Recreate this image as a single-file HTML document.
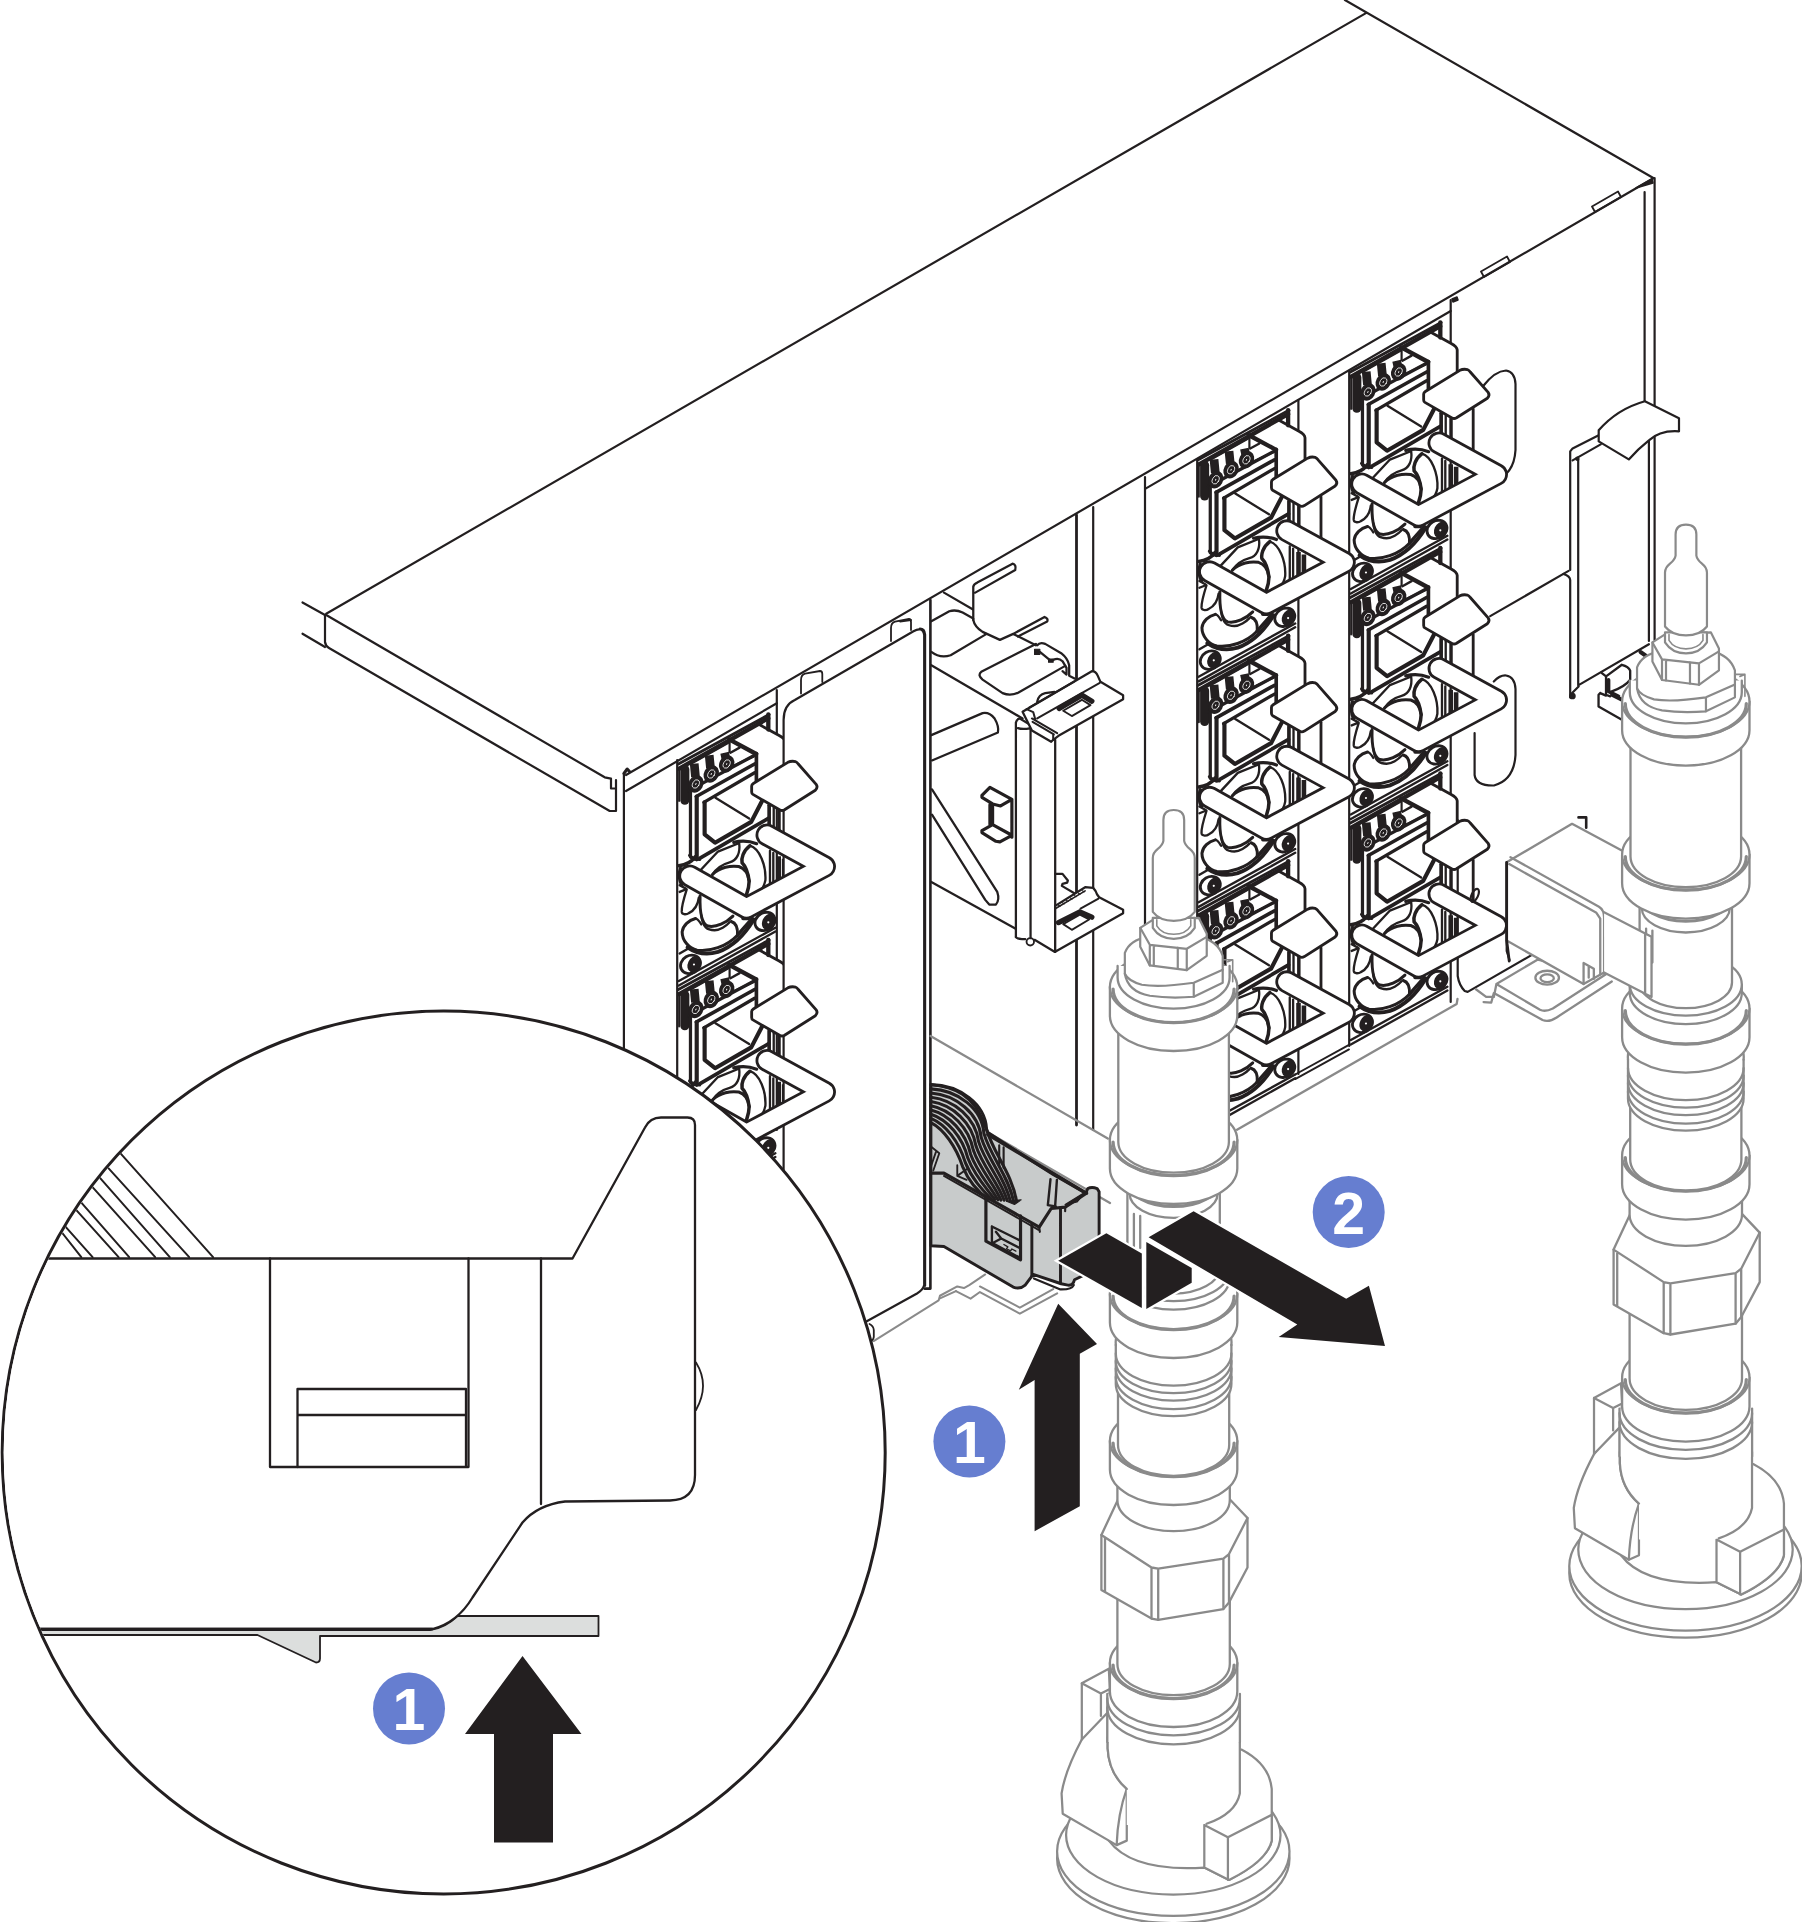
<!DOCTYPE html>
<html lang="en"><head><meta charset="utf-8"><title>Manifold retention bracket removal</title>
<style>
html,body{margin:0;padding:0;background:#fff}
body{width:1802px;height:1922px;overflow:hidden}
svg{display:block}
.k{stroke:#231f20;fill:none;stroke-width:2.2;stroke-linecap:round;stroke-linejoin:round}
.w{fill:#fff}
.g{stroke:#8a8a8a;fill:none;stroke-width:2.3;stroke-linecap:round;stroke-linejoin:round}
.num{font-family:"Liberation Sans",sans-serif;font-weight:bold;fill:#fff;text-anchor:middle}
</style></head><body>
<svg width="1802" height="1922" viewBox="0 0 1802 1922">
<defs>
<g id="psuB" class="k">
 <!-- upper part traced at 12x, origin (1340,310) -->
 <g transform="translate(1340,310) scale(0.083243)" stroke-width="34">
  <!-- box top + right face (white) -->
  <path class="w" d="M735,450 L1080,262 L1330,400 Q1405,440 1408,480 V1000 H1062 V625 Z" stroke="none"/>
  <path d="M125,745 L1215,150"/>
  <path d="M1205,150 V330" stroke-width="52"/>
  <path d="M135,800 L1205,195" stroke-width="52"/>
  <path d="M1080,262 L1330,400 Q1405,440 1408,480 V740"/>
  <path d="M735,450 L1060,625" stroke-width="52"/>
  <path d="M1062,620 V950" stroke-width="44"/>
  <path d="M740,450 V600" stroke-width="26"/>
  <path d="M860,548 L750,610" stroke-width="28"/>
  <!-- LED strip -->
  <path d="M133,790 V1190" stroke-width="23"/>
  <path d="M202,810 V1180" stroke-width="109"/>
  <path d="M270,745 L720,492" stroke-width="28"/>
  <path d="M250,1065 L1040,640" stroke-width="39"/>
  <path d="M340,1135 L1040,745" stroke-width="44"/>
  <path d="M430,1205 L1040,850" stroke-width="39"/>
  <path d="M790,765 L1035,650" stroke-width="28"/>
  <!-- LED bars -->
  <path d="M315,740 L330,900 M495,640 L510,790 M680,610 L700,700" stroke-width="105" stroke-linecap="butt"/>
  <g stroke-width="39">
   <ellipse cx="335" cy="985" rx="68" ry="90" transform="rotate(28 335 985)" fill="#231f20"/>
   <ellipse cx="520" cy="865" rx="68" ry="90" transform="rotate(28 520 865)" fill="#231f20"/>
   <ellipse cx="705" cy="745" rx="68" ry="90" transform="rotate(28 705 745)" fill="#231f20"/>
   <g stroke="#fff" stroke-width="9">
   <ellipse cx="335" cy="985" rx="38" ry="54" transform="rotate(28 335 985)"/>
   <ellipse cx="520" cy="865" rx="38" ry="54" transform="rotate(28 520 865)"/>
   <ellipse cx="705" cy="745" rx="38" ry="54" transform="rotate(28 705 745)"/>
   </g>
   <g fill="#fff" stroke="none">
   <ellipse cx="335" cy="985" rx="6" ry="12" transform="rotate(28 335 985)"/>
   <ellipse cx="520" cy="865" rx="6" ry="12" transform="rotate(28 520 865)"/>
   <ellipse cx="705" cy="745" rx="6" ry="12" transform="rotate(28 705 745)"/>
   </g>
  </g>
  <!-- inlet -->
  <path d="M270,1075 V1860 L310,1890" stroke-width="39"/>
  <path d="M345,1135 V1890" stroke-width="50"/>
  <path d="M440,1205 V1590 L565,1690 L1000,1440 L1130,1190" stroke-width="50"/>
  <path d="M570,1150 L975,1400" stroke-width="28"/>
  <path d="M385,1875 L1210,1395" stroke-width="44"/>
  <!-- right face lower verticals -->
  <path d="M1215,1240 V1500" stroke-width="44"/>
  <path d="M1270,1270 V1530" stroke-width="28"/>
  <path d="M1335,1310 V1560" stroke-width="39"/>
  <path d="M1600,1190 V1700"/>
</g>
 <!-- lower part traced at 12x, origin (1340,440) -->
 <g transform="translate(1340,440) scale(0.083243)" stroke-width="34">
  <path d="M260,280 L300,320 L380,330" stroke-width="39"/>
  <!-- fan housing -->
  <path d="M130,405 Q260,390 325,300" stroke-width="44"/>
  <path d="M150,440 Q120,540 165,635" stroke-width="44"/>
  <path d="M790,125 Q930,90 1065,140" stroke-width="39"/>
  <path d="M235,1385 Q400,1500 600,1440 Q850,1350 1030,1050" stroke-width="47"/>
  <path d="M390,460 L600,235 L850,135" stroke-width="28"/>
  <path d="M855,135 C870,250 830,340 740,365 C650,390 580,440 535,510" stroke-width="28"/>
  <path d="M985,165 C900,230 880,320 890,370 C930,410 960,480 975,590 C975,680 945,740 935,775" stroke-width="42"/>
  <path d="M985,165 C1100,200 1180,400 1170,580 C1150,700 1060,770 960,780" stroke-width="28"/>
  <path d="M535,510 C620,420 760,400 850,415 C900,430 960,480 975,590" stroke-width="36"/>
  <path d="M1225,225 V640 M1265,250 V620" stroke-width="28"/>
  <path d="M1330,290 V590 M1395,320 V555" stroke-width="55" stroke-linecap="butt"/>
  <path d="M225,690 C190,800 160,900 165,960 C170,1000 230,990 250,975 C320,940 360,870 370,790" stroke-width="28"/>
  <path d="M140,640 L215,680 M140,720 L215,690" stroke-width="28"/>
  <path d="M385,770 C380,950 400,1100 480,1130 C580,1150 700,1090 780,1010" stroke-width="36"/>
  <path d="M400,1000 C420,1150 470,1180 560,1180 C620,1180 700,1130 740,1085" stroke-width="28"/>
  <path d="M330,1040 C250,1060 180,1120 170,1200 C170,1300 250,1400 350,1420 C500,1440 700,1380 835,1240 C840,1150 810,1090 760,1075" stroke-width="36"/>
  <path d="M330,1040 C360,1040 380,1080 400,1110" stroke-width="28"/>
  <path d="M835,1240 L1010,1040" stroke-width="42"/>
  <path d="M900,1040 L965,1040" stroke-width="39"/>
  <!-- screws -->
  <ellipse cx="1165" cy="1075" rx="125" ry="105" stroke-width="34" transform="rotate(-30 1165 1075)"/>
  <ellipse cx="1210" cy="1080" rx="60" ry="85" fill="#231f20" transform="rotate(25 1210 1080)"/>
  <circle cx="1205" cy="1085" r="13" fill="#fff" stroke="none"/>
  <ellipse cx="270" cy="1590" rx="125" ry="105" stroke-width="34" transform="rotate(-30 270 1590)"/>
  <ellipse cx="315" cy="1590" rx="60" ry="85" fill="#231f20" transform="rotate(25 315 1590)"/>
  <circle cx="312" cy="1592" r="13" fill="#fff" stroke="none"/>
  <!-- bottom rails -->
  <path d="M130,1790 L1290,1150 M130,1845 L1290,1195" stroke-width="28"/>
  <path d="M140,1460 L260,1390" stroke-width="28"/>
 </g>
</g>
<g id="psuF" class="k">
 <g transform="translate(1340,310) scale(0.083243)" stroke-width="34">
  <!-- tab -->
  <path class="w" d="M1005,1010 Q1005,990 1025,978 L1440,725 Q1480,705 1530,715 Q1550,722 1565,745 L1780,990 Q1805,1025 1770,1060 L1400,1295 Q1370,1312 1340,1295 L1020,1110 Q1005,1100 1005,1080 Z"/>
  </g>
 <!-- handle -->
 <path d="M1439,443 L1496.5,474.5 L1418.5,516 L1361.8,484" stroke-width="22.9"/>
 <path d="M1439,443 L1496.5,474.5 L1418.5,516 L1361.8,484" stroke-width="17.3" stroke="#fff"/>
</g>
<g id="mf" class="g">
<g transform="translate(1020,1490) scale(0.22477)" stroke-width="10"><ellipse class="w" cx="682" cy="1640" rx="517" ry="287"/><ellipse class="w" cx="682" cy="1608" rx="517" ry="287"/><ellipse class="w" cx="682" cy="1535" rx="477" ry="265"/><path class="w" d="M985,1155 Q1110,1220 1120,1330 V1560 Q1100,1650 930,1735 L820,1680 Q500,1700 395,1560 L390,1150 Z"/><path class="w" d="M820,1490 L925,1545 L1120,1445 V1560 Q1100,1650 930,1735 L820,1680 Z"/><path d="M925,1545 V1735" fill="none"/><path class="w" d="M390,990 Q300,1070 275,1110 Q200,1250 185,1350 L190,1440 L430,1580 L475,1560 V1330 Q395,1260 390,1150 Z"/><path d="M475,1330 Q435,1440 430,1580" fill="none"/><path class="w" d="M275,1110 V860 L395,795 L400,885 L390,990 Z"/><path d="M275,860 L360,905 V1005 M360,905 L400,885" fill="none"/><path class="w" d="M390,1100 V1150 Q395,1260 475,1330 V1490 L830,1485 Q960,1430 978,1350 L980,1100 Z" stroke="none"/><path d="M390,1100 V1150 Q395,1260 475,1330 M830,1485 Q960,1440 978,1350 V1100" fill="none"/></g>
<path class="w" stroke="none" d="M1107.3,1694 V1742 H1239.9 V1694 Z"/><path fill="none" d="M1107.3,1694 V1742 M1239.9,1694 V1742"/>
<path fill="none" d="M1107.3,1698.5 A66.3,36.8 0 0 0 1239.9,1698.5"/><path fill="none" d="M1107.3,1707.5 A66.3,36.8 0 0 0 1239.9,1707.5"/>
<path class="w" d="M1109.9,1663 V1691.6 A63.7,35.4 0 0 0 1237.3,1691.6 V1663"/><ellipse class="w" cx="1173.6" cy="1663" rx="63.7" ry="35.4"/><path fill="none" stroke-width="3.2" d="M1113.1,1665 A60.5,33.6 0 0 0 1234.1,1665"/>
<path class="w" d="M1117.4,1590 V1664 A56.2,31.2 0 0 0 1229.8,1664 V1590"/>
<path class="w" d="M1117.8,1500 L1101.4,1535 V1590 L1151.5,1618.6 L1158.2,1619.9 L1223.4,1609.1 L1229,1602.4 L1247.5,1567.5 V1518 L1229.5,1499 Z"/>
<path fill="none" d="M1101.4,1535 L1151.5,1567.5 L1158.2,1568.7 L1223.4,1558.6 L1229,1554.1 L1247.5,1518 M1105,1537.5 V1591.5 M1151.5,1567.5 V1618.6 M1158.2,1568.7 V1619.9 M1223.4,1558.6 V1609.1 M1229,1554.1 V1602.4"/>
<path class="w" d="M1117.4,1470 V1500 A56.2,31.2 0 0 0 1229.8,1500 V1470"/>
<path fill="none" d="M1117.4,1472.5 A56.2,31.2 0 0 0 1229.8,1472.5"/>
<path class="w" d="M1109.9,1441 V1469.6 A63.7,35.4 0 0 0 1237.3,1469.6 V1441"/><ellipse class="w" cx="1173.6" cy="1441" rx="63.7" ry="35.4"/><path fill="none" stroke-width="3.2" d="M1113.1,1443 A60.5,33.6 0 0 0 1234.1,1443"/>
<path class="w" d="M1118,1380 V1445 A55.6,30.9 0 0 0 1229.2,1445 V1380"/>
<path class="w" d="M1115.8,1345 V1384 A57.8,32.1 0 0 0 1231.4,1384 V1345"/>
<path fill="none" d="M1115.8,1353.5 A57.8,32.1 0 0 0 1231.4,1353.5"/>
<path fill="none" d="M1115.8,1361 A57.8,32.1 0 0 0 1231.4,1361"/>
<path fill="none" d="M1115.8,1368.5 A57.8,32.1 0 0 0 1231.4,1368.5"/>
<path fill="none" d="M1115.8,1377 A57.8,32.1 0 0 0 1231.4,1377"/>
<path fill="none" d="M1115.8,1345 Q1115.1,1340 1117.6,1332 M1231.4,1345 Q1232.1,1340 1229.6,1332"/>
<path class="w" d="M1109.9,1294 V1322.6 A63.7,35.4 0 0 0 1237.3,1322.6 V1294"/><ellipse class="w" cx="1173.6" cy="1294" rx="63.7" ry="35.4"/><path fill="none" stroke-width="3.2" d="M1113.1,1296 A60.5,33.6 0 0 0 1234.1,1296"/>
<path class="w" d="M1117.6,1270 V1278.5 A56,31.1 0 0 0 1229.6,1278.5 V1270"/><ellipse class="w" cx="1173.6" cy="1270" rx="56" ry="31.1"/>
<path class="w" d="M1127.4,1175 V1268 A46.2,25.6 0 0 0 1219.8,1268 V1175"/>
<path fill="none" stroke-width="3" d="M1127.4,1181 A46.2,25.6 0 0 0 1219.8,1181"/><path fill="none" d="M1129.6,1193.5 A44,24.4 0 0 0 1217.6,1193.5"/>
<path fill="none" d="M1133.9,1214 V1250 M1140.2,1216 V1248"/>
<path class="w" d="M1109.9,1140 V1168.6 A63.7,35.4 0 0 0 1237.3,1168.6 V1140"/><ellipse class="w" cx="1173.6" cy="1140" rx="63.7" ry="35.4"/><path fill="none" stroke-width="3.2" d="M1113.1,1142 A60.5,33.6 0 0 0 1234.1,1142"/>
<path class="w" d="M1118.3,1010 V1142 A55.3,30.7 0 0 0 1228.9,1142 V1010"/>
<path class="w" d="M1109.9,987 V1015.6 A63.7,35.4 0 0 0 1237.3,1015.6 V987"/><ellipse class="w" cx="1173.6" cy="987" rx="63.7" ry="35.4"/><path fill="none" stroke-width="3.2" d="M1113.1,989 A60.5,33.6 0 0 0 1234.1,989"/>
<path class="w" d="M1117.6,966 V977.6 A56,31.1 0 0 0 1229.6,977.6 V966"/>
<g transform="translate(990,790) scale(0.19976)" stroke-width="11"><path d="M1190,860 L1215,850 L1215,960 M1165,850 L1215,850" fill="none" stroke-width="8"/><path class="w" d="M675,920 V815 Q700,750 790,735 H1050 Q1140,755 1165,830 V965 L1020,1035 Q900,1045 800,1030 Q690,1010 675,920 Z"/><path d="M675,920 Q690,955 760,975 Q850,990 1020,965 L1165,900 M1020,965 V1035" fill="none"/><path class="w" d="M752,690 L815,650 L1045,640 L1085,720 V830 L985,902 L800,878 L752,785 Z"/><path d="M752,690 L800,775 L985,795 L1085,735 M800,775 V878 M820,778 V880 M940,790 V896 M985,795 V902" fill="none"/><path class="w" d="M815,640 V690 Q850,745 920,745 Q990,745 1025,690 V640 Z"/><path d="M835,650 V680 Q860,722 920,722 Q980,722 1005,680 V650" fill="none" stroke-width="8"/><path class="w" d="M868,255 V150 Q868,100 920,100 Q972,100 972,150 V255 Q975,275 1000,295 Q1025,315 1025,340 V610 Q990,655 920,655 Q850,655 815,610 V340 Q815,315 840,295 Q865,275 868,255 Z"/></g>
</g>

</defs>
<rect width="1802" height="1922" fill="#fff"/>
<g id="chassis" class="k">
<!-- top face -->
<path d="M326.2,613.7 L1366.8,12.6 M1344.9,0 L1653.3,178 M626,775 L1653.3,178.3"/>
<path d="M326.2,615 L604.7,777.3 L611,778.6 V788.5 H616"/>
<path d="M325,615 V642 Q325.5,646 329,648 L609.7,811 H616 V780"/>
<path d="M302.5,602.5 L325,615 M302.5,633.7 L325,647"/>
<path d="M623.9,773.5 L627.2,769 L629.5,771.5" stroke-width="3"/>
<path d="M623.9,773.5 V1060"/>
<!-- second line under top edge -->
<path d="M626,791 L776.8,703.2 M1146,488.4 L1450.7,311"/>
<!-- clips on top edge -->
<path d="M1595,212 L1621,197 L1618,191.5 L1592,206.5 Z M1484,277 L1510,262 L1507,256.5 L1481,271.5 Z" stroke-width="1.8"/>
<path d="M1452,299 l5,-2 l1,3 l-5,2 Z M1636,188 L1652,179 L1653,183 Z" fill="#231f20" stroke-width="1.5"/>
<!-- right edge -->
<path d="M1654.6,178 V640 M1644.6,192 V410"/>
<!-- column lines -->
<path d="M677.2,760 V1100 M776.8,690 V1130"/>
<path d="M1197.2,459 V1135 M1298.4,400 V1074"/>
<path d="M1295.2,1074.5 L1349,1044.8 M1295.2,1079.1 L1349,1049.4" stroke-width="1.9"/>
<path d="M1349.2,371 V1046 M1450.7,300 V1002"/>
<path d="M801,693.5 V680 Q801,675 805,673.7 L820,671 Q822.3,671 822.3,674 V682 M891,641 V628 Q891,623 895,621.7 L909,619 Q911,619 911,622 V630" stroke-width="1.8"/>
<path d="M930.4,600 V1288.6 H924.5" stroke-width="2.6"/>
<!-- center bay right verticals -->
<path d="M1076.5,515 V1125" stroke-width="2.8"/><path d="M1093.2,507 V1130 M1145,477 V1060"/>
<!-- knob --><path d="M869.5,1324 Q873.5,1326 873.8,1330 V1337 Q873,1341 870.5,1341" stroke-width="1.8"/>
<path d="M900,641 L910,634.8 M900,621.5 L911,620" stroke-width="1.8"/>
</g>

<g id="rightpanel" class="k">
<!-- ears -->
<path d="M1483.2,386 Q1495,371 1506,370.5 Q1515,372 1515.5,384 V450 Q1514,475 1494,480.5"/>
<path d="M1493.8,681.5 Q1500,675 1506,675.5 Q1515,677 1515.5,689 V755 Q1514,780 1494,785.5 Q1476,786 1474.6,775 V733"/>
<!-- line from ear to panel -->
<path d="M1490.2,616.1 L1568.6,570.9"/>
<!-- panel -->
<path d="M1570.2,570 V451.4 L1572.6,448.4 L1598.7,435.3 M1563.5,574 Q1570,576 1570.2,580 V697.5"/>
<path d="M1578.2,459.4 V685.4 L1648.9,644.2 M1571.6,693.5 L1578.6,686.4 M1572.6,460.4 L1600.7,444.4"/>
<path d="M1648.9,440 V641"/>
<circle cx="1572.4" cy="696" r="2.6" fill="#231f20" stroke-width="1.5"/>
<circle cx="1577.4" cy="458.8" r="1.6" fill="#231f20" stroke-width="1.2"/>
<path d="M1640.5,652 l5,3.5" stroke-width="4"/>
<!-- latch -->
<path class="w" d="M1598.7,430.3 Q1617,409 1644.9,401.2 L1679,418.3 V431.3 Q1660,430 1648.9,440.4 Q1638,449 1628.8,459.4 L1598.7,441.4 Z"/>
<!-- small bracket under panel -->
<g transform="translate(1502,480) scale(0.16647)" stroke-width="14">
 <path d="M600,1160 L625,1180 V1290 L650,1300 M625,1180 L720,1110 Q760,1120 770,1145 V1200 Q740,1240 660,1270"/>
 <path d="M640,1200 V1270 L700,1300 M660,1290 L720,1320" stroke-width="22"/>
 <path d="M590,1280 L580,1290 V1360 L720,1440 M590,1280 L625,1295"/>
</g>
<!-- lower right chassis -->
<path d="M1457.7,820 V976 Q1459,985 1464.7,991 L1467.7,991.9 L1533.6,953.9 M1506.7,863 V951 L1509.5,960"/>
<path d="M1578.5,817.4 H1586.2 V827.7" stroke-width="2.6"/>
</g>

<g id="psusB">
<use href="#psuB" x="0" y="0"/>
<use href="#psuB" x="0" y="225.5"/>
<use href="#psuB" x="0" y="451"/>
<use href="#psuB" x="-152.2" y="87.8"/>
<use href="#psuB" x="-152.2" y="313.3"/>
<use href="#psuB" x="-152.2" y="538.8"/>
<use href="#psuB" x="-672" y="392"/>
<use href="#psuB" x="-672" y="617.5"/>
</g>

<g id="filler" class="k">
<path class="w" d="M783.6,1330 V720 Q783.6,705 794.8,700 L913.5,631.2 Q922.5,626 924.2,635 V1285 Q923,1290 917,1293.5 L860,1325 Z"/>
</g>

<g id="psusF">
<use href="#psuF" x="0" y="0"/>
<use href="#psuF" x="0" y="225.5"/>
<use href="#psuF" x="0" y="451"/>
<use href="#psuF" x="-152.2" y="87.8"/>
<use href="#psuF" x="-152.2" y="313.3"/>
<use href="#psuF" x="-152.2" y="538.8"/>
<use href="#psuF" x="-672" y="392"/>
<use href="#psuF" x="-672" y="617.5"/>
<ellipse class="k" cx="1474.8" cy="895.3" rx="3.2" ry="7" transform="rotate(25 1474.8 895.3)" stroke-width="2.6"/>
</g>

<g id="bay" class="k">
<!-- upper, 7.508x origin (920,540) -->
<g transform="translate(920,540) scale(0.13319)" stroke-width="17">
 <path d="M0,665 Q35,665 38,710 V5600"/>
 <path d="M180,395 L395,520"/>
 <path d="M400,600 V350 Q405,330 430,320 L695,178 Q725,185 715,225 L415,395"/>
 <path d="M400,600 Q410,650 470,690 L600,750 L700,705 L935,578 Q965,590 955,612 L735,725"/>
 <path d="M85,610 L220,535 Q270,520 320,545 L400,590 M85,840 Q150,890 230,865 L500,705"/>
 <path d="M700,705 L870,790"/>
 <path d="M870,780 L460,990 Q430,1015 470,1048 L620,1150 Q680,1175 740,1145 L1090,945"/>
 <path d="M880,790 Q900,765 940,780 L1060,850 Q1110,890 1120,940 V1020 L1160,1040"/>
 <path d="M860,820 h40 v40 h-40 Z M965,893 h35 v25 h-35 Z" fill="#231f20" stroke-width="8"/>
 <path d="M900,840 L980,905 M1000,900 Q1040,880 1070,910 L1100,960 V1010 L1070,985"/>
 <path d="M85,940 L770,1340"/>
 <path d="M85,1465 L470,1300 Q520,1290 560,1340 Q595,1400 585,1445 L90,1655"/>
 <!-- bars under latch -->
 <path d="M720,2980 V1370 Q725,1345 750,1340 L830,1390 V2990 M735,1412 Q770,1425 830,1412 M1015,1500 V3093"/>
 <path d="M880,1215 Q890,1160 940,1150 L1010,1140"/>
 <!-- latch plate -->
 <path class="w" d="M770,1290 L1290,985 Q1320,985 1335,1020 L1355,1065 L1525,1165 V1195 L1040,1470 L1000,1500 L985,1515 L840,1430 Z"/>
 <path d="M820,1258 L1160,1062 M880,1340 L1350,1072 M800,1270 L850,1292 L865,1345 M840,1340 L1030,1450 M845,1365 L1005,1460 M1000,1500 V1460" stroke-width="15"/>
 <path d="M1045,1265 L1215,1165 L1290,1210" stroke-width="40" stroke-linejoin="miter"/>
 <path d="M1075,1282 L1215,1200 L1280,1240 L1140,1322 Z" stroke-width="14"/>
</g>
<!-- lower, 7.508x origin (920,780) -->
<g transform="translate(920,780) scale(0.13319)" stroke-width="17">
 <path d="M90,70 L580,840 Q600,900 570,935 L520,935 L490,900 L90,260"/>
 <path d="M465,115 L525,55 L690,145 L605,195 L545,180 L465,130 Z M525,185 V335 M545,185 V335 M690,145 V430 M465,380 L545,335 L690,415 L600,465 L570,460 L465,395 Z" stroke-width="24"/>
 <path d="M85,765 L715,1115"/>
 <path d="M720,1180 Q730,1195 790,1195 M860,1200 L1010,1290"/>
 <circle cx="828" cy="1215" r="28" stroke-width="14"/>
 <path d="M1015,705 H1070 L1110,755 L1105,770 L1070,780 L1065,795 L1175,860"/>
 <path class="w" d="M1015,945 L1240,805 L1300,810 Q1320,830 1330,860 L1345,880 L1525,975 V1000 L1015,1290 Z"/>
 <path d="M1015,967 L1240,832" stroke-width="12"/>
 <path d="M1040,940 l12,8 M1070,922 l12,8 M1100,904 l12,8 M1130,886 l12,8 M1160,868 l12,8 M1190,850 l12,8 M1220,832 l12,8" stroke-width="8"/>
 <path d="M1205,965 L1340,890" stroke-width="15"/>
 <path d="M1040,1070 L1200,990 L1290,1030" stroke-width="40" stroke-linejoin="miter"/>
 <path d="M1075,1082 L1200,1012 L1270,1047 L1140,1125 Z" stroke-width="14"/>
</g>
</g>

<g id="bracket">
<!-- tray / shelf gray lines -->
<g class="g" stroke-width="2">
<path d="M930.5,1036 L972,1060 L1107.8,1138.6"/>
<path d="M988,1132.6 L1110,1203"/>
<path d="M1237,1129.7 L1456.7,1003.9 L1457.5,999"/>
</g>
<g transform="translate(900,1060) scale(0.13319)" class="k" stroke-width="20">
 <!-- base plate gray outlines -->
 <g class="g" style="stroke-width:15">
 <path d="M-198,2110 L290,1805 L300,1770 L430,1700 L480,1712 L520,1690 L640,1610"/>
 <path d="M420,1735 L530,1792 L600,1742 L900,1905 L1180,1752"/>
 <path d="M300,1790 L420,1735 M600,1700 L900,1860 L1150,1720"/>
 </g>
 <!-- silhouette -->
 <path d="M232,185 C400,200 560,260 640,500 L660,545 L1150,860 L1395,1000 L1410,965 Q1440,950 1480,965 L1495,990 V1560 L1310,1650 Q1300,1695 1260,1690 L1210,1680 L1000,1610 L940,1690 Q900,1725 850,1705 L330,1400 L232,1395 Z" fill="#c8cbcb" stroke-width="22"/>
 <!-- inner white (inside of tray seen from top is gray too) -->
 <path d="M660,560 L1400,1000" stroke-width="26"/>
 <path d="M232,850 H330 L1045,1255 L1135,1115 L1240,1105 L1400,1000" stroke-width="24"/>
 <path d="M330,870 L1040,1275" stroke-width="14"/>
 <path d="M645,1040 V1360 L905,1500 V1170" stroke-width="24"/>
 <path d="M690,1250 V1372 L895,1482 M690,1250 L895,1352 M720,1290 L760,1340 L895,1410 M760,1340 L700,1372" stroke-width="18"/>
 <path d="M780,1385 l30,18 l-10,14 l30,16 l10,-14 l30,16" stroke-width="10"/>
 <path d="M990,1240 V1620 M1205,1110 V1675" stroke-width="22"/>
 <path d="M1130,895 L1110,1090 M1178,900 L1165,1095 M1110,1090 L1170,1100" stroke-width="18"/>
 <path d="M1240,1085 L1395,990 L1330,1065 Z" fill="#231f20" stroke-width="10"/>
 <path d="M1045,1255 L1050,1290 M1240,1105 L1240,1135" stroke-width="16"/>
 <path d="M745,640 V800 M778,655 V810" stroke-width="16"/>
 <path d="M232,650 L295,700 L250,830 M270,690 L232,800 M430,790 V870 L500,900 M430,870 L500,820" stroke-width="14"/>
 <path d="M1005,1640 L1200,1722 Q1290,1725 1305,1690" stroke-width="16"/>
 <!-- cables -->
 <g stroke-width="23">
  <path d="M232,185 C450,190 640,330 650,520 C700,700 840,850 875,1060"/>
  <path d="M232,217 C437,227 616,366 630,551 C680,724 813,867 852,1058"/>
  <path d="M232,248 C423,263 591,401 610,582 C660,749 787,883 828,1057"/>
  <path d="M232,280 C410,300 567,437 590,613 C640,773 760,900 805,1055"/>
  <path d="M232,312 C397,337 542,472 570,644 C620,798 733,917 782,1053"/>
  <path d="M232,343 C383,373 518,508 550,676 C600,822 707,933 758,1052"/>
  <path d="M232,375 C370,410 493,543 530,707 C580,847 680,950 735,1050"/>
  <path d="M232,407 C357,447 469,579 510,738 C560,871 653,967 712,1048"/>
  <path d="M232,438 C343,483 444,614 490,769 C540,896 627,983 688,1047"/>
  <path d="M232,470 C330,520 420,650 470,800 C520,920 600,1000 665,1045"/>
 </g>
 <path d="M800,1060 L910,1050 L860,1085 Z" fill="#231f20" stroke-width="8"/>
 <!-- wall bottom -->
</g>
</g>

<g id="block" class="g">
<g transform="translate(1340,620) scale(0.2564)" stroke-width="9">
 <!-- base tab -->
 <path class="w" d="M530,1440 L570,1470 L600,1470 L610,1420 L770,1325 L1040,1380 L830,1515 Q800,1530 780,1520 L610,1420"/>
 <path d="M560,1490 L590,1492 L600,1455 L790,1560 Q815,1570 845,1550 L1060,1410" fill="none"/>
 <ellipse cx="808" cy="1395" rx="46" ry="27"/><ellipse cx="808" cy="1397" rx="26" ry="15"/>
 <!-- block body -->
 <path class="w" d="M650,945 L905,795 L1110,905 L1215,1210 V1470 L1030,1375 L950,1420 L650,1250 Z" stroke="none"/>
 <path d="M650,945 L905,795 L1110,905 M1030,1375 L950,1420 L650,1250" fill="none"/>
 <path d="M665,925 L1010,1118 Q1030,1130 1030,1160 V1375 M660,952 L1000,1142 L1015,1165 V1382 M950,1338 V1420 M950,1338 L990,1360 V1400 M970,1350 V1395" fill="none"/>
 <path d="M650,945 V1250 L660,1330" stroke="#231f20" stroke-width="11" fill="none"/>
</g>
</g>

<g id="manifolds">
<use href="#mf" x="512.2" y="-285.4"/>
<use href="#mf"/>
</g>

<g id="blockfront" class="g">
<g transform="translate(1340,620) scale(0.2564)" stroke-width="9">
 <path class="w" d="M1030,1140 L1215,1235 V1470 L1030,1375 Z" stroke="none"/>
 <path d="M1030,1140 L1215,1235 V1470 L1030,1375 M1190,1222 V1458" fill="none"/>
</g>
</g>

<g id="arrows">
<polygon points="1058.2,1303.7 1097,1343.9 1079.8,1353.7 1079.8,1506.3 1034.6,1531.2 1034.6,1380 1018.8,1389.7" fill="#231f20"/>
<g fill="#231f20" stroke="#fff" stroke-width="4.5" stroke-linejoin="miter" paint-order="stroke">
<polygon points="1058.2,1260.7 1106.4,1233.3 1141.8,1253.5 1141.8,1307.9"/>
<polygon points="1146.3,1242 1191.7,1267.9 1191.7,1282.7 1146.3,1309"/>
<polygon points="1148.6,1237.3 1193.6,1211.2 1346.2,1298.7 1368.9,1285.7 1385,1345.9 1278.7,1337 1297.3,1324.5"/>
</g>
<circle cx="1348.7" cy="1212.1" r="36" fill="#667ed0"/>
<text class="num" x="1348.7" y="1233.6" font-size="59">2</text>
<circle cx="969.4" cy="1441.6" r="36" fill="#667ed0"/>
<text class="num" x="969.4" y="1463" font-size="59">1</text>
</g>

<g id="callout">
<circle cx="443.7" cy="1452.5" r="441.5" fill="#fff" stroke="#231f20" stroke-width="3"/>
<clipPath id="cc"><circle cx="443.7" cy="1452.5" r="440"/></clipPath>
<g clip-path="url(#cc)">
<g class="k"><g transform="translate(0,960) scale(0.5)" stroke-width="4.6">
 <!-- hatching -->
 <path d="M225.8,369.8 L426.2,594.4 M201.8,399.8 L378.4,594.4 M185.8,419.8 L339.6,594.4 M171.2,438.6 L310.4,594.4 M148.6,469.2 L258.4,594.4 M139.2,485.2 L237.2,594.4 M116.6,517.2 L185.2,594.4 M111.2,529 L162.6,594.4" stroke-width="4"/>
 <path d="M-20,1350 H515 L632,1405 Q640,1405 640,1397 V1352 H1197 V1312 H915 Q890,1336 860,1340 H-20 Z" fill="#dcdedd" stroke-width="3.6"/>
 <!-- body -->
 <path class="w" d="M-20,597 H1145 L1290,335 Q1300,315 1322,315 H1375 Q1390,315 1390,330 V1030 Q1390,1080 1340,1081 L1130,1083 Q1075,1090 1045,1125 L945,1275 Q915,1325 865,1338 H-20 Z"/>
 <path d="M1082,597 V1088"/>
 <path d="M540,597 V1014 H937 V597"/>
 <path d="M595,1014 V858 H932 V1012 M595,910 H932"/>
 <path d="M1392,805 Q1420,850 1392,900" stroke-width="3.6"/>
 <!-- plate -->
 <path d="M-20,1338 H865"/>
</g>
</g>
</g>
<polygon points="522.5,1656 581.5,1734 553,1734 553,1842.5 494,1842.5 494,1734 465,1734" fill="#231f20"/>
<circle cx="409" cy="1708.5" r="36" fill="#667ed0"/>
<text class="num" x="409" y="1730" font-size="59">1</text>
</g>

</svg>
</body></html>
